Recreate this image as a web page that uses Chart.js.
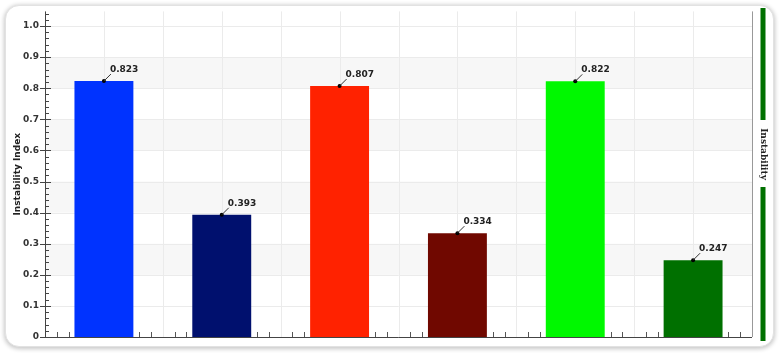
<!DOCTYPE html>
<html>
<head>
<meta charset="utf-8">
<script src="https://cdn.jsdelivr.net/npm/chart.js@4/dist/chart.umd.min.js"></script>
<style>
  html, body { margin: 0; padding: 0; background: #fff; }
  #card {
    position: absolute; left: 5px; top: 5px; width: 767px; height: 340px;
    border-radius: 14px; border: 1px solid #e2e2e2;
    box-shadow: 0 1px 4px 1px rgba(0, 0, 0, 0.22); background: #fff;
  }
  #wrap { position: absolute; left: 0; top: 0; width: 780px; height: 355px; }
</style>
</head>
<body>
<div id="card"></div>
<div id="wrap"><canvas id="chart" width="780" height="355"></canvas></div>
<script>
// Werte
const categories = ['A', 'B', 'C', 'D', 'E', 'F'];
const values = [0.823, 0.393, 0.807, 0.334, 0.822, 0.247];
const barColors = ['#0033ff', '#00106e', '#ff2200', '#700800', '#00f800', '#007000'];
const yTicks = [0, 0.1, 0.2, 0.3, 0.4, 0.5, 0.6, 0.7, 0.8, 0.9, 1.0];
const yTitle = 'Instability Index';
const sideLabel = 'Instability';

// Hintergrund: Streifen, Gitter, kleine Ticks
const backgroundPlugin = {
    id: 'background',
    beforeDatasetsDraw(chart) {
        const { ctx, chartArea: a, scales: { x, y } } = chart;
        ctx.save();
        // graue Streifen
        ctx.fillStyle = '#f7f7f7';
        for (let i = 2; i < yTicks.length - 1; i += 2) {
            const top = y.getPixelForValue(yTicks[i + 1]);
            const bot = y.getPixelForValue(yTicks[i]);
            ctx.fillRect(a.left, top, a.right - a.left, bot - top);
        }
        ctx.strokeStyle = '#ebebeb';
        ctx.lineWidth = 1;
        // horizontale Linien
        yTicks.forEach(v => {
            const py = Math.round(y.getPixelForValue(v)) + 0.5;
            ctx.beginPath(); ctx.moveTo(a.left, py); ctx.lineTo(a.right, py); ctx.stroke();
        });
        // vertikale Linien (halbe Kategorien)
        const step = (a.right - a.left) / categories.length;
        for (let k = 1; k < categories.length * 2; k++) {
            const px = Math.round(a.left + k * step / 2) + 0.5;
            ctx.beginPath(); ctx.moveTo(px, a.top); ctx.lineTo(px, a.bottom); ctx.stroke();
        }
        // kleine Ticks an der x-Achse
        ctx.strokeStyle = '#555';
        for (let k = 1; k < categories.length * 10; k++) {
            if (k % 5 === 0) continue;
            const px = Math.round(a.left + k * step / 10) + 0.5;
            ctx.beginPath(); ctx.moveTo(px, a.bottom); ctx.lineTo(px, a.bottom - 5); ctx.stroke();
        }
        ctx.restore();
    },
    afterDraw(chart) {
        const { ctx, chartArea: a, scales: { y } } = chart;
        ctx.save();
        ctx.strokeStyle = '#444';
        ctx.lineWidth = 1;
        // Achsenlinien
        ctx.beginPath();
        ctx.moveTo(a.left + 0.5, a.top); ctx.lineTo(a.left + 0.5, a.bottom + 0.5);
        ctx.lineTo(a.right, a.bottom + 0.5);
        ctx.stroke();
        ctx.strokeStyle = '#999';
        ctx.beginPath(); ctx.moveTo(a.right + 0.5, a.top); ctx.lineTo(a.right + 0.5, a.bottom); ctx.stroke();
        // y-Ticks
        ctx.strokeStyle = '#444';
        for (let i = 0; i <= 52; i++) {
            const v = i * 0.02;
            const py = Math.round(y.getPixelForValue(v)) + 0.5;
            if (py < a.top) break;
            const major = i % 5 === 0;
            ctx.beginPath();
            ctx.moveTo(major ? a.left - 5 : a.left, py);
            ctx.lineTo(a.left + (major ? 6 : 4), py);
            ctx.stroke();
        }
        // Werte-Beschriftung mit Punkt und Linie
        const meta = chart.getDatasetMeta(0);
        ctx.font = 'bold 9px "DejaVu Sans"';
        ctx.textBaseline = 'alphabetic';
        ctx.textAlign = 'left';
        meta.data.forEach((bar, i) => {
            const bx = bar.x, by = bar.y;
            ctx.fillStyle = '#000';
            ctx.beginPath(); ctx.arc(bx, by, 2, 0, Math.PI * 2); ctx.fill();
            ctx.strokeStyle = '#333';
            ctx.beginPath(); ctx.moveTo(bx, by); ctx.lineTo(bx + 7, by - 7); ctx.stroke();
            ctx.fillStyle = '#222';
            ctx.fillText(values[i].toFixed(3), bx + 6, by - 9);
        });
        // Titel y-Achse
        ctx.save();
        ctx.translate(18, (a.top + a.bottom) / 2);
        ctx.rotate(-Math.PI / 2);
        ctx.textAlign = 'center';
        ctx.textBaseline = 'middle';
        ctx.fillStyle = '#222';
        ctx.font = 'bold 9px "DejaVu Sans"';
        ctx.fillText(yTitle, 0, 0);
        ctx.restore();
        // rechte Leiste
        const sx = 763;
        ctx.font = 'bold 9px "DejaVu Serif"';
        const mid = 154;
        ctx.fillStyle = barColors[5];
        ctx.fillRect(sx - 2.5, 8, 5, 112);
        ctx.fillRect(sx - 2.5, 187, 5, 154);
        ctx.save();
        ctx.translate(sx, mid);
        ctx.rotate(Math.PI / 2);
        ctx.textAlign = 'center';
        ctx.textBaseline = 'middle';
        ctx.fillStyle = '#222';
        ctx.fillText(sideLabel, 0, 0);
        ctx.restore();
        ctx.restore();
    }
};

new Chart(document.getElementById('chart').getContext('2d'), {
    type: 'bar',
    data: {
        labels: categories,
        datasets: [{
            data: values,
            backgroundColor: barColors,
            borderWidth: 0,
            barPercentage: 0.5,
            categoryPercentage: 1.0
        }]
    },
    options: {
        responsive: false,
        animation: false,
        layout: { padding: { left: 0, right: 28, top: 7, bottom: 18 } },
        plugins: { legend: { display: false }, tooltip: { enabled: false } },
        scales: {
            x: {
                ticks: { display: false },
                grid: { display: false, drawTicks: false },
                border: { display: false },
                afterFit(scale) { scale.height = 0; }
            },
            y: {
                min: 0,
                max: 1.047,
                ticks: {
                    stepSize: 0.1,
                    padding: 6,
                    color: '#333',
                    font: { family: 'DejaVu Sans', size: 9, weight: 'bold' },
                    callback: v => (v === 0 ? '0' : v.toFixed(1))
                },
                afterBuildTicks(scale) {
                    scale.ticks = yTicks.map(v => ({ value: v }));
                },
                grid: { display: false, drawTicks: false },
                border: { display: false },
                afterFit(scale) { scale.width = 45; }
            }
        }
    },
    plugins: [backgroundPlugin]
});
</script>
</body>
</html>
